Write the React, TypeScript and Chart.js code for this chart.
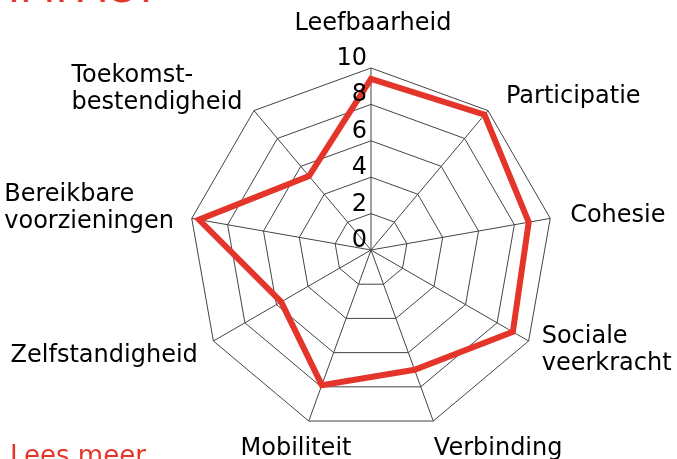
import React, { useEffect, useRef } from "react";
import { Chart, registerables } from "chart.js";

Chart.register(...registerables);

const categories: string[][] = [
  ["Leefbaarheid"],
  ["Participatie"],
  ["Cohesie"],
  ["Sociale", "veerkracht"],
  ["Verbinding"],
  ["Mobiliteit"],
  ["Zelfstandigheid"],
  ["Bereikbare", "voorzieningen"],
  ["Toekomst-", "bestendigheid"],
];
const scores: number[] = [9.4, 9.7, 8.8, 9.0, 7.0, 7.9, 5.7, 9.6, 5.3];
const tickValues: number[] = [0, 2, 4, 6, 8, 10];

const RED = "#e4352a";
const FONT = "24px 'DejaVu Sans'";

const labelsPlugin = {
  id: "customRadarLabels",
  afterDraw(chart: any) {
    const scale = chart.scales.r;
    const ctx = chart.ctx;
    const cx = scale.xCenter;
    const cy = scale.yCenter;
    const R = scale.drawingArea;
    ctx.save();
    ctx.font = FONT;
    ctx.fillStyle = "#000";
    const lh = 27;
    categories.forEach((lines, i) => {
      const a = scale.getIndexAngle(i);
      const s = Math.sin(a);
      const c = Math.cos(a);
      const d = R + 18;
      let x = cx + s * d;
      const y = cy - c * d;
      const w = Math.max(...lines.map((l) => ctx.measureText(l).width));
      let left: number;
      let align: string;
      if (s > 0.3) { align = "left"; x += 7 * c + 1; left = x; }
      else if (s < -0.5) { align = "right"; left = x - w; }
      else { align = "center"; if (c < 0) x += 7 * c; else x += 2; left = x - w / 2; }
      let centerY: number;
      if (c > 0.9) centerY = y - 26.5;
      else if (c < -0.9) centerY = y + 11;
      else if (align === "right") centerY = y + 6 - ((lines.length - 1) * lh) / 2;
      else centerY = y;
      ctx.textAlign = align === "center" ? "center" : "left";
      ctx.textBaseline = "middle";
      lines.forEach((l, k) => {
        const ly = centerY + (k - (lines.length - 1) / 2) * lh;
        ctx.fillText(l, align === "center" ? x : left, ly);
      });
    });
    ctx.textAlign = "right";
    ctx.textBaseline = "alphabetic";
    tickValues.forEach((v) => {
      const r = scale.getDistanceFromCenterForValue(v);
      ctx.fillText(String(v), cx - 4, cy - r - 3);
    });
    ctx.restore();
  },
};

export default function App() {
  const ref = useRef<HTMLCanvasElement | null>(null);
  useEffect(() => {
    if (!ref.current) return;
    const chart = new Chart(ref.current, {
      type: "radar",
      data: {
        labels: categories.map((c) => c.join(" ")),
        datasets: [
          {
            data: scores,
            borderColor: RED,
            borderWidth: 6,
            borderJoinStyle: "miter",
            backgroundColor: "transparent",
            fill: false,
            pointRadius: 0,
            pointHoverRadius: 0,
          },
        ],
      },
      options: {
        animation: false,
        responsive: false,
        maintainAspectRatio: false,
        layout: { padding: { left: 189, right: 124, top: 68, bottom: 27 } },
        plugins: { legend: { display: false }, tooltip: { enabled: false } },
        scales: {
          r: {
            min: 0,
            max: 10,
            ticks: { stepSize: 2, display: false },
            grid: { color: "#444", lineWidth: 1 },
            angleLines: { color: "#444", lineWidth: 1 },
            pointLabels: { display: false },
          },
        },
      },
      plugins: [labelsPlugin],
    } as any);
    return () => chart.destroy();
  }, []);
  return (
    <div style={{ position: "absolute", left: 0, top: 0, width: 677, height: 459, overflow: "hidden", background: "#fff" }}>
      <div style={{ position: "absolute", left: 8, top: -32, fontFamily: "'DejaVu Sans'", fontSize: 41, lineHeight: "41px", color: RED, whiteSpace: "nowrap" }}>IMPACT</div>
      <canvas ref={ref} width={677} height={459} style={{ position: "absolute", left: 0, top: 0 }} />
      <div style={{ position: "absolute", left: 10, top: 442, fontFamily: "'DejaVu Sans'", fontSize: 26, lineHeight: "26px", color: RED, whiteSpace: "nowrap" }}>Lees meer</div>
    </div>
  );
}
